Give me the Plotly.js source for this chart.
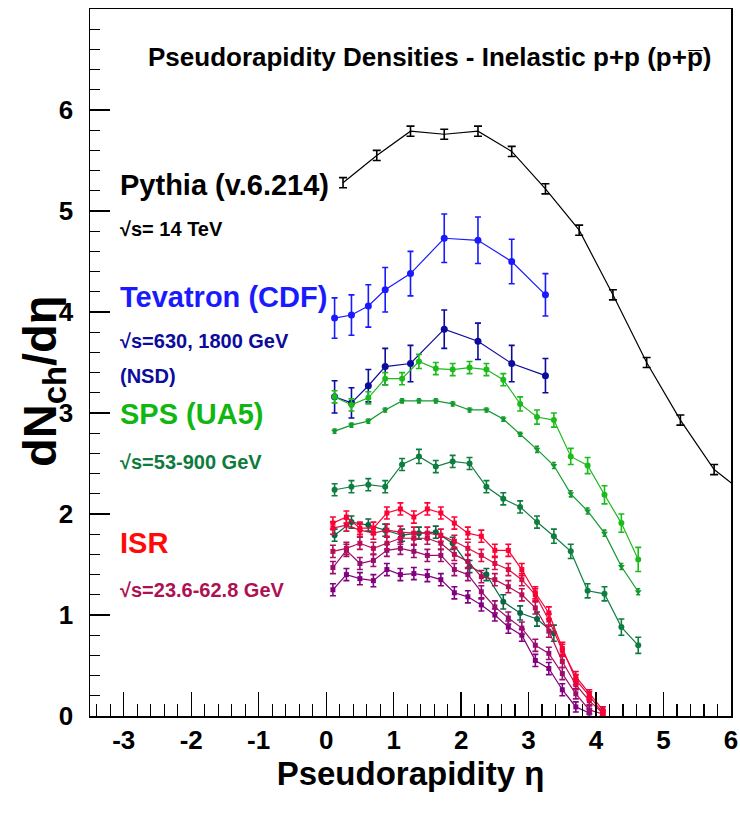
<!DOCTYPE html>
<html>
<head>
<meta charset="utf-8">
<script src="https://cdn.plot.ly/plotly-3.0.1.min.js"></script>
<style>html,body{margin:0;padding:0;background:#fff;}#chart{width:740px;height:829px;}</style>
</head>
<body>
<div id="chart"></div>
<script>
// ---- data ----
const pythiaX = [0.25, 0.75, 1.25, 1.75, 2.25, 2.75, 3.25, 3.75, 4.25, 4.75, 5.25, 5.75, 6.25];
const pythiaY = [5.28, 5.55, 5.79, 5.76, 5.79, 5.59, 5.22, 4.81, 4.17, 3.50, 2.93, 2.44, 2.18];
const pythiaErr = [0.05, 0.05, 0.05, 0.05, 0.05, 0.05, 0.05, 0.05, 0.05, 0.05, 0.05, 0.05, 0.05];

const cdfX = [0.125, 0.375, 0.625, 0.875, 1.25, 1.75, 2.25, 2.75, 3.25];
const cdf1800Y = [3.94, 3.97, 4.06, 4.22, 4.38, 4.73, 4.71, 4.50, 4.17];
const cdf1800Err = [0.20, 0.20, 0.21, 0.22, 0.22, 0.24, 0.23, 0.22, 0.21];
const cdf630Y = [3.16, 3.10, 3.27, 3.46, 3.49, 3.83, 3.71, 3.49, 3.37];
const cdf630Err = [0.16, 0.15, 0.16, 0.18, 0.18, 0.19, 0.18, 0.18, 0.17];

const ua5X = [0.125, 0.375, 0.625, 0.875, 1.125, 1.375, 1.625, 1.875, 2.125, 2.375,
              2.625, 2.875, 3.125, 3.375, 3.625, 3.875, 4.125, 4.375, 4.625];
const ua5900Y = [3.16, 3.08, 3.15, 3.34, 3.34, 3.51, 3.44, 3.43, 3.45, 3.43, 3.33, 3.09, 2.96, 2.93, 2.57, 2.48, 2.19, 1.91, 1.55];
const ua5900Err = [0.06, 0.06, 0.06, 0.06, 0.06, 0.07, 0.06, 0.06, 0.06, 0.06, 0.06, 0.07, 0.07, 0.07, 0.08, 0.08, 0.09, 0.09, 0.12];
const ua5546Y = [2.82, 2.88, 2.92, 3.03, 3.12, 3.12, 3.12, 3.09, 3.03, 3.03, 2.94, 2.79, 2.64, 2.48, 2.20, 2.03, 1.81, 1.48, 1.23];
const ua5546Err = [0.02, 0.02, 0.02, 0.02, 0.02, 0.02, 0.02, 0.02, 0.02, 0.02, 0.02, 0.02, 0.03, 0.03, 0.03, 0.03, 0.03, 0.03, 0.03];
const ua5200Y = [2.24, 2.27, 2.29, 2.27, 2.49, 2.57, 2.47, 2.52, 2.50, 2.27, 2.15, 2.07, 1.92, 1.78, 1.63, 1.24, 1.21, 0.88, 0.70];
const ua5200Err = [0.06, 0.06, 0.06, 0.06, 0.06, 0.07, 0.06, 0.06, 0.06, 0.06, 0.06, 0.06, 0.06, 0.07, 0.07, 0.07, 0.07, 0.08, 0.08];
const ua553X = [0.125, 0.375, 0.625, 0.875, 1.125, 1.375, 1.625, 1.875, 2.125, 2.375, 2.625, 2.875, 3.125, 3.375];
const ua553Y = [1.79, 1.92, 1.89, 1.84, 1.79, 1.81, 1.82, 1.71, 1.48, 1.40, 1.13, 1.02, 0.96, 0.82];
const ua553Err = [0.06, 0.06, 0.06, 0.06, 0.06, 0.06, 0.06, 0.06, 0.06, 0.06, 0.07, 0.07, 0.07, 0.08];

const isrX = [0.1, 0.3, 0.5, 0.7, 0.9, 1.1, 1.3, 1.5, 1.7, 1.9, 2.1, 2.3, 2.5, 2.7, 2.9, 3.1, 3.3, 3.5, 3.7, 3.9, 4.1];
const isr628Y = [1.91, 1.97, 1.86, 1.86, 2.01, 2.05, 1.97, 2.05, 2.01, 1.91, 1.81, 1.78, 1.64, 1.64, 1.45, 1.22, 1.02, 0.67, 0.36, 0.20, 0.03];
const isr526Y = [1.86, 1.89, 1.84, 1.81, 1.84, 1.82, 1.81, 1.81, 1.79, 1.73, 1.66, 1.59, 1.51, 1.45, 1.35, 1.20, 0.95, 0.65, 0.39, 0.22, 0.06];
const isr442Y = [1.63, 1.66, 1.71, 1.66, 1.71, 1.76, 1.76, 1.76, 1.71, 1.60, 1.53, 1.38, 1.35, 1.28, 1.20, 1.07, 0.84, 0.54, 0.31, 0.15, 0.03];
const isr308Y = [1.47, 1.64, 1.51, 1.54, 1.64, 1.66, 1.63, 1.59, 1.59, 1.45, 1.40, 1.23, 1.08, 0.97, 0.87, 0.70, 0.62, 0.42, 0.22, 0.06, 0.02];
const isr236Y = [1.25, 1.40, 1.36, 1.34, 1.45, 1.40, 1.41, 1.39, 1.35, 1.22, 1.18, 1.10, 1.00, 0.88, 0.80, 0.55, 0.47, 0.26, 0.09, 0.03];
const isrErr = [0.06, 0.06, 0.06, 0.06, 0.06, 0.06, 0.06, 0.06, 0.06, 0.06, 0.06, 0.06, 0.06, 0.06, 0.06, 0.06, 0.06, 0.06, 0.05, 0.04, 0.03];

const xTickVals = [-3, -2, -1, 0, 1, 2, 3, 4, 5, 6];
const yTickVals = [0, 1, 2, 3, 4, 5, 6];

// ---- styling ----
const FONT = '"Liberation Sans",Arial,Helvetica,sans-serif';

function series(x, y, err, color, symbol, size, capw) {
  const t = {
    type: 'scatter', mode: symbol ? 'lines+markers' : 'lines',
    x: x, y: y,
    line: {color: color, width: 1.2},
    error_y: {type: 'data', array: err.slice(0, y.length), visible: true, color: color, thickness: 1.6, width: capw},
    showlegend: false, cliponaxis: true
  };
  if (symbol) t.marker = {color: color, symbol: symbol, size: size};
  return t;
}

const traces = [
  series(pythiaX, pythiaY, pythiaErr, '#000000', null, 0, 4),
  series(cdfX, cdf1800Y, cdf1800Err, '#1a1aff', 'circle', 7, 3),
  series(cdfX, cdf630Y, cdf630Err, '#0b0b9c', 'circle', 7, 3),
  series(ua5X, ua5900Y, ua5900Err, '#1cbb1c', 'circle', 6, 3),
  series(ua5X, ua5546Y, ua5546Err, '#129a2e', 'triangle-down', 6, 2),
  series(ua5X, ua5200Y, ua5200Err, '#0e7e40', 'circle', 6, 3),
  series(ua553X, ua553Y, ua553Err, '#0a6644', 'circle', 6, 3),
  series(isrX, isr236Y, isrErr, '#800080', 'square', 5, 3),
  series(isrX, isr308Y, isrErr, '#9a0c70', 'square', 5, 3),
  series(isrX, isr442Y, isrErr, '#b80e56', 'square', 5, 3),
  series(isrX, isr526Y, isrErr, '#dc0c44', 'square', 5, 3),
  series(isrX, isr628Y, isrErr, '#ff0033', 'square', 5, 3)
];

// left-side text labels (paper coordinates from pixel positions)
const L = 90, T = 9, W = 641, H = 707;
function px(x) { return (x - L) / W; }
function py(y) { return 1 - (y - T) / H; }
function label(text, y, size, color) {
  return {xref: 'paper', yref: 'paper', x: px(118), y: py(y), xanchor: 'left', yanchor: 'middle',
          text: text, showarrow: false,
          font: {family: FONT, size: size, color: color, weight: 'bold'}};
}
const annotations = [
  label('Pythia (v.6.214)', 185, 29, '#000000'),
  label('√s= 14 TeV', 229, 20, '#000000'),
  label('Tevatron (CDF)', 297, 29, '#1a1aff'),
  label('√s=630, 1800 GeV', 341, 20, '#0b0b9c'),
  label('(NSD)', 376, 20, '#0b0b9c'),
  label('SPS (UA5)', 414, 29, '#11b611'),
  label('√s=53-900 GeV', 462, 20, '#0e7a3c'),
  label('ISR', 543, 29, '#ff0a0a'),
  label('√s=23.6-62.8 GeV', 590, 20, '#ae1152'),
  // y-axis title, placed where the reference has it
  {xref: 'paper', yref: 'paper', x: px(43), y: py(381), xanchor: 'center', yanchor: 'middle',
   textangle: -90, text: 'dN<sub>ch</sub>/dη', showarrow: false,
   font: {family: FONT, size: 47, color: '#000', weight: 'bold'}}
];

const axisCommon = {
  showline: true, linecolor: '#000', linewidth: 1.5, mirror: true,
  ticks: 'inside', tickcolor: '#000', tickwidth: 1.3,
  showgrid: false, zeroline: false, fixedrange: true,
  tickfont: {family: FONT, size: 26, color: '#000', weight: 'bold'}
};

const layout = {
  width: 740, height: 829,
  margin: {l: 90, r: 9, t: 9, b: 113},
  paper_bgcolor: '#fff', plot_bgcolor: '#fff',
  title: {text: 'Pseudorapidity Densities - Inelastic p+p (p+p\u0305)',
          x: 0.53, xref: 'paper', xanchor: 'center', y: 1 - 57 / 829, yanchor: 'middle',
          font: {family: FONT, size: 26, color: '#000', weight: 'bold'}},
  xaxis: Object.assign({}, axisCommon, {
    range: [-3.5, 6.0], tickvals: xTickVals, ticktext: xTickVals.map(String), ticklen: 24,
    minor: {dtick: 0.2, tick0: 0, ticks: 'inside', ticklen: 12, tickcolor: '#000', tickwidth: 1.2, showgrid: false},
    title: {text: 'Pseudorapidity η', standoff: 8,
            font: {family: FONT, size: 33, color: '#000', weight: 'bold'}}
  }),
  yaxis: Object.assign({}, axisCommon, {
    range: [0, 7.0], tickvals: yTickVals, ticktext: yTickVals.map(String), ticklen: 20,
    ticklabelstandoff: 10,
    minor: {dtick: 0.2, tick0: 0, ticks: 'inside', ticklen: 10, tickcolor: '#000', tickwidth: 1.2, showgrid: false}
  }),
  annotations: annotations
};

Plotly.newPlot('chart', traces, layout, {staticPlot: true, displayModeBar: false});
</script>
</body>
</html>
